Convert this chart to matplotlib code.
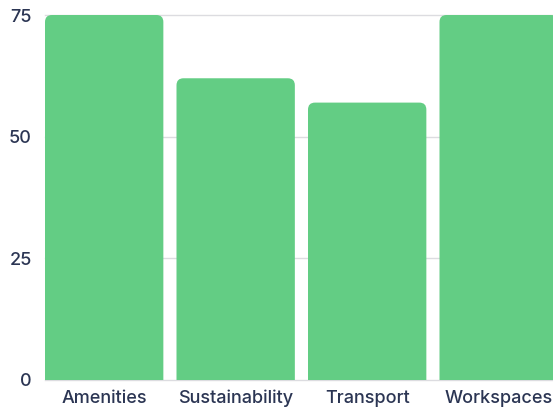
import matplotlib
matplotlib.use("Agg")
import matplotlib.pyplot as plt
from matplotlib.patches import FancyBboxPatch

categories = ["Amenities", "Sustainability", "Transport", "Workspaces"]
values = [75, 62, 57, 75]
yticks = [0, 25, 50, 75]

bar_color = "#63CD84"
text_color = "#2B3553"

plt.rcParams["font.family"] = ["Inter", "DejaVu Sans"]
plt.rcParams["font.weight"] = "medium"

fig = plt.figure(figsize=(5.53, 4.09), dpi=100)
W, H = 553, 409
ax = fig.add_axes([45 / W, 29 / H, (553 - 45) / W, 365 / H])

x = list(range(len(categories)))
bars = ax.bar(x, values, width=0.9, color=bar_color)
ax.set_xlim(-0.45, -0.45 + 508 / 131.5)
ax.set_ylim(0, 75)

# swap plain bars for ones with rounded tops (bottom corners fall below the axis and get clipped)
px_x = 131.5
px_y = 365 / 75
r = 7 / px_x
for b in bars:
    b.set_visible(False)
    p = FancyBboxPatch((b.get_x(), -5), b.get_width(), b.get_height() + 5,
                       boxstyle="round,pad=0,rounding_size=%f" % r,
                       mutation_aspect=px_x / px_y,
                       facecolor=bar_color, edgecolor="none", zorder=2)
    ax.add_patch(p)

ax.set_yticks(yticks)
ax.set_xticks(x)
ax.set_xticklabels(categories)
ax.grid(axis="y", color="#DCDCE0", linewidth=1, zorder=0)
for gl in ax.get_ygridlines():
    gl.set_clip_on(False)
ax.set_axisbelow(True)
for s in ax.spines.values():
    s.set_visible(False)
ax.tick_params(length=0, labelsize=13, colors=text_color)
ax.tick_params(axis="y", pad=9.5)
ax.tick_params(axis="x", pad=7)

fig.savefig("out.png", dpi=100)
